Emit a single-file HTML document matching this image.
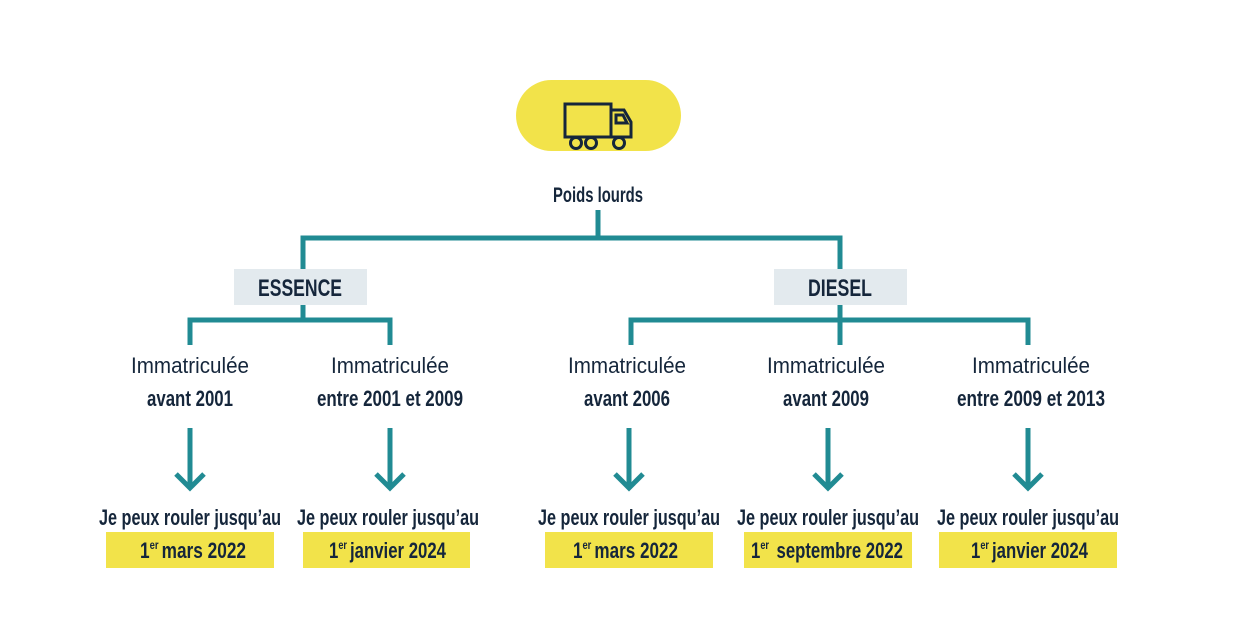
<!DOCTYPE html>
<html><head><meta charset="utf-8"><style>
html,body{margin:0;padding:0;background:#fff;width:1241px;height:644px;overflow:hidden}
text{font-family:"Liberation Sans Narrow","Liberation Sans",sans-serif;fill:#15263b}
.b{font-weight:bold}
</style></head><body>
<svg width="1241" height="644" viewBox="0 0 1241 644" xmlns="http://www.w3.org/2000/svg">
<rect x="516" y="80" width="165" height="71" rx="35.5" fill="#f2e34a"/>
<g fill="none" stroke="#15263b" stroke-width="3">
<rect x="565" y="104" width="46" height="33"/>
<path d="M611 110 H624 L631 122 V137 H611"/>
<path d="M616 115 H623 L627 123 H616 Z"/>
<circle cx="576" cy="143" r="5.5" fill="#f2e34a"/>
<circle cx="591" cy="143" r="5.5" fill="#f2e34a"/>
<circle cx="619" cy="143" r="5.5" fill="#f2e34a"/>
</g>
<text x="598" y="202" class="b" font-size="21" text-anchor="middle" textLength="90" lengthAdjust="spacingAndGlyphs">Poids lourds</text>
<g fill="none" stroke="#218b93" stroke-width="5">
<path d="M598 210 V238 M303 270 V238 H840 V270"/>
<path d="M303 305 V320 M190 345 V320 H390 V345"/>
<path d="M840 305 V345 M631 345 V320 H1028 V345"/>
</g>
<rect x="234" y="269" width="133" height="36" fill="#e3eaee"/>
<rect x="774" y="269" width="133" height="36" fill="#e3eaee"/>
<text x="300" y="296" class="b" font-size="24" text-anchor="middle" textLength="84" lengthAdjust="spacingAndGlyphs">ESSENCE</text>
<text x="840" y="296" class="b" font-size="24" text-anchor="middle" textLength="64" lengthAdjust="spacingAndGlyphs">DIESEL</text>
<g font-size="22" text-anchor="middle">
<text x="190" y="373" textLength="118" lengthAdjust="spacingAndGlyphs">Immatriculée</text>
<text x="390" y="373" textLength="118" lengthAdjust="spacingAndGlyphs">Immatriculée</text>
<text x="627" y="373" textLength="118" lengthAdjust="spacingAndGlyphs">Immatriculée</text>
<text x="826" y="373" textLength="118" lengthAdjust="spacingAndGlyphs">Immatriculée</text>
<text x="1031" y="373" textLength="118" lengthAdjust="spacingAndGlyphs">Immatriculée</text>
</g>
<g font-size="22" text-anchor="middle" class="b">
<text x="190" y="406" class="b" textLength="86" lengthAdjust="spacingAndGlyphs">avant 2001</text>
<text x="390" y="406" class="b" textLength="146" lengthAdjust="spacingAndGlyphs">entre 2001 et 2009</text>
<text x="627" y="406" class="b" textLength="86" lengthAdjust="spacingAndGlyphs">avant 2006</text>
<text x="826" y="406" class="b" textLength="86" lengthAdjust="spacingAndGlyphs">avant 2009</text>
<text x="1031" y="406" class="b" textLength="148" lengthAdjust="spacingAndGlyphs">entre 2009 et 2013</text>
</g>
<g fill="none" stroke="#218b93" stroke-width="5">
<path d="M190 428 V488 M176 474 L190 488 L204 474"/>
<path d="M390 428 V488 M376 474 L390 488 L404 474"/>
<path d="M629 428 V488 M615 474 L629 488 L643 474"/>
<path d="M828 428 V488 M814 474 L828 488 L842 474"/>
<path d="M1028 428 V488 M1014 474 L1028 488 L1042 474"/>
</g>
<g fill="#f2e34a">
<rect x="106" y="532" width="168" height="36"/>
<rect x="303" y="532" width="167" height="36"/>
<rect x="545" y="532" width="168" height="36"/>
<rect x="744" y="532" width="168" height="36"/>
<rect x="939" y="532" width="178" height="36"/>
</g>
<g font-size="22" text-anchor="middle">
<text x="190" y="525" class="b" textLength="182" lengthAdjust="spacingAndGlyphs">Je peux rouler jusqu’au</text>
<text x="388" y="525" class="b" textLength="182" lengthAdjust="spacingAndGlyphs">Je peux rouler jusqu’au</text>
<text x="629" y="525" class="b" textLength="182" lengthAdjust="spacingAndGlyphs">Je peux rouler jusqu’au</text>
<text x="828" y="525" class="b" textLength="182" lengthAdjust="spacingAndGlyphs">Je peux rouler jusqu’au</text>
<text x="1028" y="525" class="b" textLength="182" lengthAdjust="spacingAndGlyphs">Je peux rouler jusqu’au</text>
</g>
<g font-size="22" class="b">
<text x="140" y="558" class="b" textLength="106" lengthAdjust="spacingAndGlyphs">1<tspan font-size="12" dy="-9">er</tspan><tspan dy="9" dx="4">mars 2022</tspan></text>
<text x="329" y="558" class="b" textLength="117" lengthAdjust="spacingAndGlyphs">1<tspan font-size="12" dy="-9">er</tspan><tspan dy="9" dx="4">janvier 2024</tspan></text>
<text x="573" y="558" class="b" textLength="105" lengthAdjust="spacingAndGlyphs">1<tspan font-size="12" dy="-9">er</tspan><tspan dy="9" dx="4">mars 2022</tspan></text>
<text x="751" y="558" class="b" textLength="152" lengthAdjust="spacingAndGlyphs">1<tspan font-size="12" dy="-9">er</tspan><tspan dy="9" dx="10">septembre 2022</tspan></text>
<text x="971" y="558" class="b" textLength="117" lengthAdjust="spacingAndGlyphs">1<tspan font-size="12" dy="-9">er</tspan><tspan dy="9" dx="4">janvier 2024</tspan></text>
</g>
</svg>
</body></html>
